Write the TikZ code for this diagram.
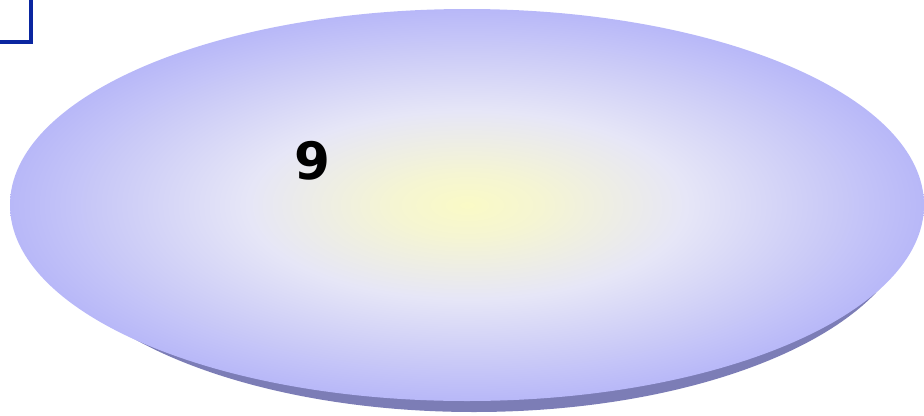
\documentclass[tikz,border=0pt]{standalone}
\usepackage{fontspec}
\setsansfont{DejaVu Sans}
\definecolor{discyellow}{HTML}{FAFAC6}
\definecolor{discmid}{HTML}{E6E6F7}
\definecolor{discedge}{HTML}{A6A6F8}
\definecolor{discshadow}{HTML}{7C7DB6}
\definecolor{frameblue}{HTML}{0A26A0}
\pgfdeclareradialshading{disc}{\pgfpoint{0bp}{0bp}}{color(0bp)=(discyellow); color(4bp)=(discyellow!75!discmid); color(12bp)=(discmid); color(30bp)=(discedge); color(50bp)=(discedge)}
\begin{document}
\begin{tikzpicture}[x=0.03cm,y=-0.03cm]

            \useasboundingbox (0,0) rectangle (924,415);

            \fill[discshadow] (474,214) ellipse [x radius=438, y radius=198];
            \shade[shading=disc] (467,205) ellipse [x radius=457, y radius=196];

            \draw[frameblue, line width=4.2pt] (31,-5) -- (31,42) -- (-5,42);

            \node (digit) at (312,161) {\sffamily\bfseries\fontsize{44}{44}\selectfont 9};

        \end{tikzpicture}
\end{document}
